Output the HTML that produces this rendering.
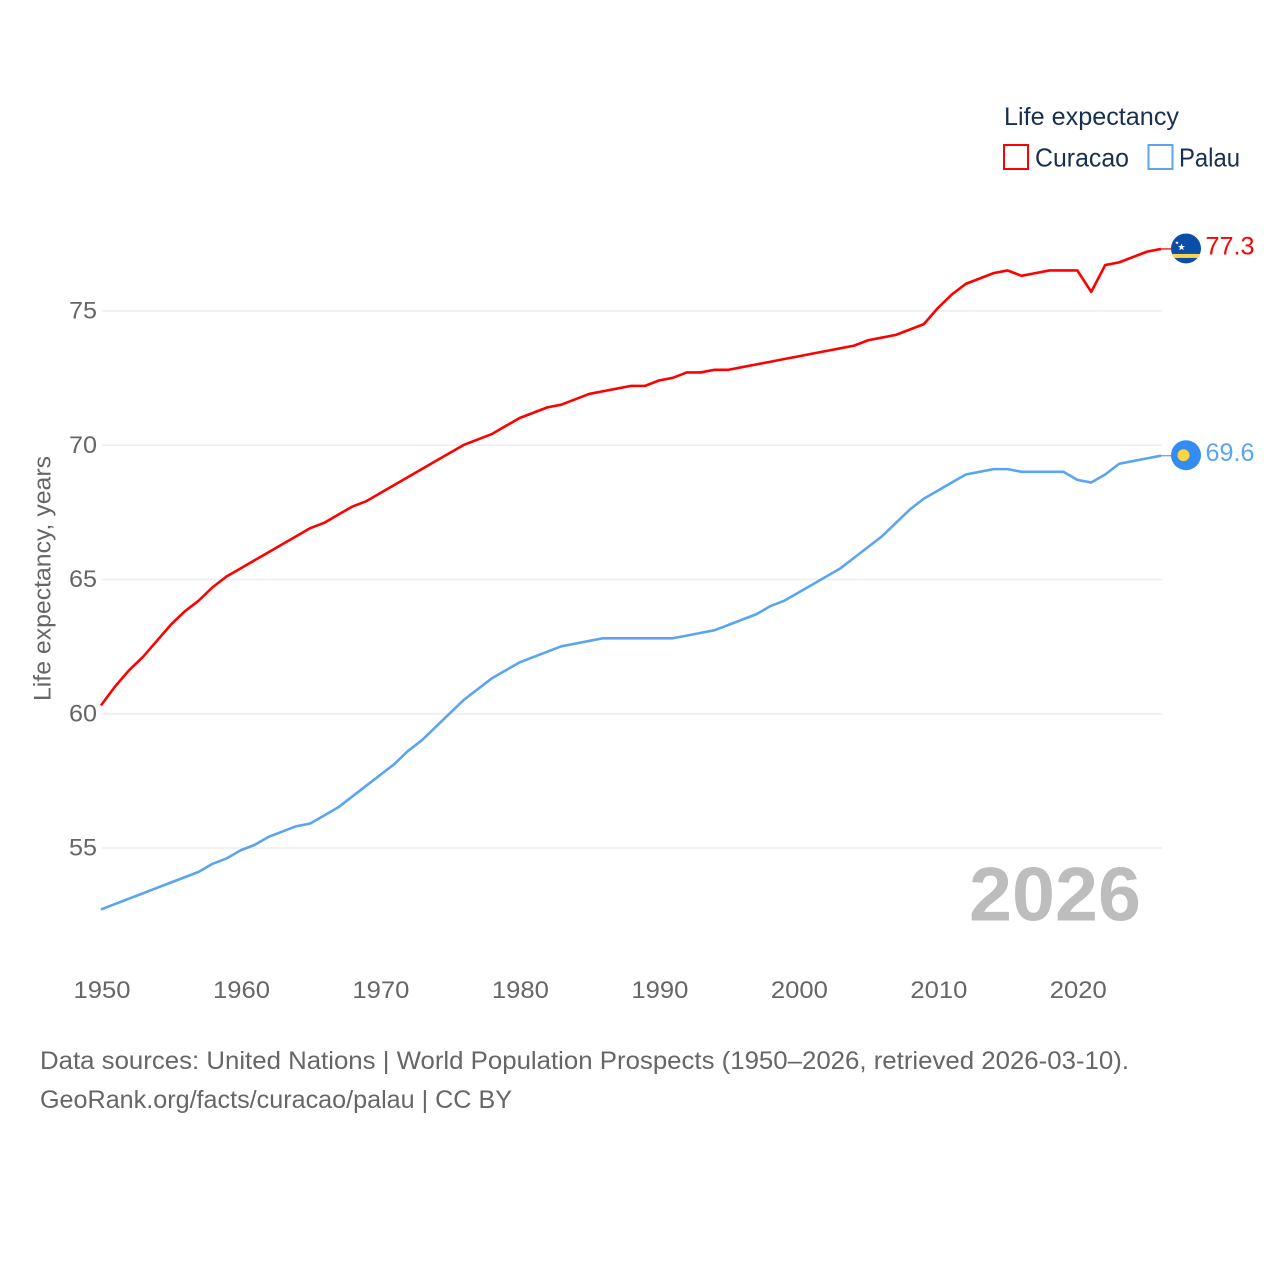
<!DOCTYPE html>
<html lang="en">
<head>
<meta charset="utf-8">
<title>Life expectancy: Curacao vs Palau</title>
<style>
  html, body { margin: 0; padding: 0; background: #fff; }
  svg { display: block; }
  text { font-family: "Liberation Sans", sans-serif; }
</style>
</head>
<body>
<svg id="chart" xmlns="http://www.w3.org/2000/svg" width="1280" height="1280" viewBox="0 0 1280 1280">
  <rect width="1280" height="1280" fill="#fff"/>
  <g id="grid"></g>
  <g id="yticks"></g>
  <g id="xticks"></g>
  <text transform="translate(50.5,701) rotate(-90)" font-size="24" fill="#666" textLength="245" lengthAdjust="spacingAndGlyphs">Life expectancy, years</text>
  <g id="series"></g>
  <text id="yearLabel" x="969" y="920.5" font-size="76" font-weight="700" fill="#bdbdbd" textLength="172" lengthAdjust="spacingAndGlyphs">2026</text>
  <g>
    <text x="1004" y="125" font-size="25" fill="#18304f" textLength="175" lengthAdjust="spacingAndGlyphs">Life expectancy</text>
    <g>
      <rect x="1004" y="145" width="24" height="24" fill="#fff" stroke="#ff0000" stroke-width="2"/>
      <text x="1035" y="166.5" font-size="26" fill="#18304f" textLength="94" lengthAdjust="spacingAndGlyphs">Curacao</text>
    </g>
    <g>
      <rect x="1148.5" y="145" width="24" height="24" fill="#fff" stroke="#5ba4f0" stroke-width="2"/>
      <text x="1179" y="166.5" font-size="26" fill="#18304f" textLength="61" lengthAdjust="spacingAndGlyphs">Palau</text>
    </g>
  </g>
  <g id="flagCuracao">
    <clipPath id="clipC"><circle cx="0" cy="0" r="15"/></clipPath>
    <g clip-path="url(#clipC)">
      <rect x="-15" y="-15" width="30" height="30" fill="#0a4ea8"/>
      <rect x="-15" y="5.5" width="30" height="4" fill="#fbd44a"/>
      <polygon fill="#fff" points="-4.5,-5 -3.6,-2.4 -1,-2.4 -3.1,-0.8 -2.3,1.8 -4.5,0.3 -6.7,1.8 -5.9,-0.8 -8,-2.4 -5.4,-2.4"/>
      <polygon fill="#fff" points="-9,-7.5 -8.5,-6.3 -7.2,-6.3 -8.2,-5.5 -7.8,-4.3 -9,-5 -10.2,-4.3 -9.8,-5.5 -10.8,-6.3 -9.5,-6.3"/>
    </g>
  </g>
  <g id="flagPalau">
    <circle cx="0" cy="0" r="15" fill="#338cf2"/>
    <circle cx="-2.5" cy="0" r="6" fill="#ffd53f"/>
  </g>
  <text id="valueCuracao" x="1205.5" font-size="25" fill="#ff0000" textLength="49" lengthAdjust="spacingAndGlyphs"></text>
  <text id="valuePalau" x="1205.5" font-size="25" fill="#5ba4f0" textLength="49" lengthAdjust="spacingAndGlyphs"></text>
  <g>
    <text x="40" y="1069" font-size="25" fill="#666" textLength="1089" lengthAdjust="spacingAndGlyphs">Data sources: United Nations | World Population Prospects (1950–2026, retrieved 2026-03-10).</text>
    <text x="40" y="1108" font-size="25" fill="#666" textLength="472" lengthAdjust="spacingAndGlyphs">GeoRank.org/facts/curacao/palau | CC BY</text>
  </g>
</svg>
<script>
const firstYear = 1950;
const lastYear = 2026;
const yTickValues = [55, 60, 65, 70, 75];
const xTickValues = [1950, 1960, 1970, 1980, 1990, 2000, 2010, 2020];
const curacaoValues = [
  60.3, 61.0, 61.6, 62.1, 62.7, 63.3, 63.8, 64.2, 64.7, 65.1,
  65.4, 65.7, 66.0, 66.3, 66.6, 66.9, 67.1, 67.4, 67.7, 67.9,
  68.2, 68.5, 68.8, 69.1, 69.4, 69.7, 70.0, 70.2, 70.4, 70.7,
  71.0, 71.2, 71.4, 71.5, 71.7, 71.9, 72.0, 72.1, 72.2, 72.2,
  72.4, 72.5, 72.7, 72.7, 72.8, 72.8, 72.9, 73.0, 73.1, 73.2,
  73.3, 73.4, 73.5, 73.6, 73.7, 73.9, 74.0, 74.1, 74.3, 74.5,
  75.1, 75.6, 76.0, 76.2, 76.4, 76.5, 76.3, 76.4, 76.5, 76.5,
  76.5, 75.7, 76.7, 76.8, 77.0, 77.2, 77.3
];
const palauValues = [
  52.7, 52.9, 53.1, 53.3, 53.5, 53.7, 53.9, 54.1, 54.4, 54.6,
  54.9, 55.1, 55.4, 55.6, 55.8, 55.9, 56.2, 56.5, 56.9, 57.3,
  57.7, 58.1, 58.6, 59.0, 59.5, 60.0, 60.5, 60.9, 61.3, 61.6,
  61.9, 62.1, 62.3, 62.5, 62.6, 62.7, 62.8, 62.8, 62.8, 62.8,
  62.8, 62.8, 62.9, 63.0, 63.1, 63.3, 63.5, 63.7, 64.0, 64.2,
  64.5, 64.8, 65.1, 65.4, 65.8, 66.2, 66.6, 67.1, 67.6, 68.0,
  68.3, 68.6, 68.9, 69.0, 69.1, 69.1, 69.0, 69.0, 69.0, 69.0,
  68.7, 68.6, 68.9, 69.3, 69.4, 69.5, 69.6
];

const SVG_NS = 'http://www.w3.org/2000/svg';
const gridLeft = 102;
const gridRight = 1162;
const lineLeft = 101;
const lineRight = 1161;

function xScale(year) {
  return lineLeft + (year - firstYear) * (lineRight - lineLeft) / (lastYear - firstYear);
}
function yScale(value) {
  return 310.7 + (75 - value) * 26.85;
}
function make(tag, parent) {
  const el = document.createElementNS(SVG_NS, tag);
  parent.appendChild(el);
  return el;
}

const grid = document.getElementById('grid');
const yticks = document.getElementById('yticks');
const xticks = document.getElementById('xticks');
const series = document.getElementById('series');

yTickValues.forEach(function (v) {
  const line = make('line', grid);
  
  
  line.setAttribute('x1', gridLeft);
  line.setAttribute('x2', gridRight);
  line.setAttribute('y1', yScale(v) + 0.3);
  line.setAttribute('y2', yScale(v) + 0.3);
  line.setAttribute('stroke', '#eeeeee');
  line.setAttribute('stroke-width', '1.5');
  const label = make('text', yticks);
  
  
  label.setAttribute('x', 97);
  label.setAttribute('y', yScale(v) + 7.8);
  label.setAttribute('text-anchor', 'end');
  label.setAttribute('font-size', '24');
  label.setAttribute('fill', '#666');
  label.setAttribute('textLength', '28');
  label.setAttribute('lengthAdjust', 'spacingAndGlyphs');
  label.textContent = v;
});

xTickValues.forEach(function (year) {
  const label = make('text', xticks);
  
  
  label.setAttribute('x', xScale(year) + 1);
  label.setAttribute('y', 998);
  label.setAttribute('text-anchor', 'middle');
  label.setAttribute('font-size', '24');
  label.setAttribute('fill', '#666');
  label.setAttribute('textLength', '57');
  label.setAttribute('lengthAdjust', 'spacingAndGlyphs');
  label.textContent = year;
});

function pathFor(values) {
  return values.map(function (v, i) {
    return (i === 0 ? 'M' : 'L') + xScale(firstYear + i).toFixed(2) + ' ' + yScale(v).toFixed(2);
  }).join(' ');
}

function drawSeries(name, values, color, flagId, valueId) {
  const last = values[values.length - 1];
  const endY = yScale(last);
  const line = make('path', series);
  
  
  line.setAttribute('d', pathFor(values));
  line.setAttribute('fill', 'none');
  line.setAttribute('stroke', color);
  line.setAttribute('stroke-width', '2.6');
  line.setAttribute('stroke-linejoin', 'round');
  const connector = make('line', series);
  
  
  connector.setAttribute('x1', lineRight);
  connector.setAttribute('x2', 1172);
  connector.setAttribute('y1', endY);
  connector.setAttribute('y2', endY);
  connector.setAttribute('stroke', color);
  connector.setAttribute('stroke-width', '1.3');
  document.getElementById(flagId).setAttribute('transform', 'translate(1186,' + (endY - 0.5) + ')');
  const valueText = document.getElementById(valueId);
  valueText.setAttribute('y', endY + 5.5);
  valueText.textContent = last.toFixed(1);
}

drawSeries('curacao', curacaoValues, '#ff0000', 'flagCuracao', 'valueCuracao');
drawSeries('palau', palauValues, '#5ba4f0', 'flagPalau', 'valuePalau');
</script>
</body>
</html>
